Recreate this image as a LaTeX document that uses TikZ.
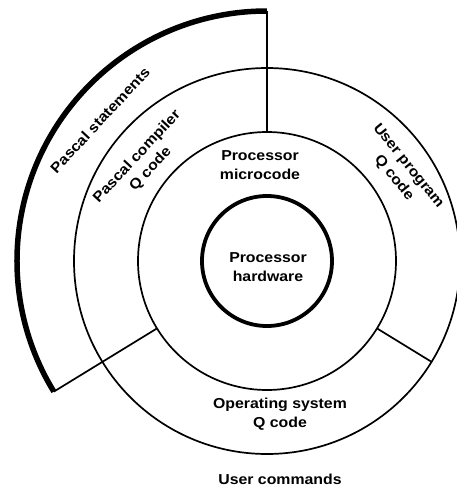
\documentclass[tikz,border=0pt]{standalone}
\usepackage{fontspec}
\newfontfamily\lab{Liberation Sans}[FakeStretch=1.1]
\begin{document}
\begin{tikzpicture}[x=1pt,y=1pt,
  ring/.style={line width=1.7pt},
  core/.style={line width=3.8pt},
  shell/.style={line width=5.5pt},
  divider/.style={line width=1.7pt},
  txt/.style={align=center,inner sep=0pt,font=\lab\bfseries\fontsize{14.4}{18.5}\selectfont}]
\useasboundingbox (-267,-230) rectangle (190,261);
% centre
\coordinate (c) at (0,0);
% rings
\draw[core] (c) circle[radius=65];
\draw[ring] (c) circle[radius=129];
\draw[ring] (c) circle[radius=193];
% thick outer shell (Pascal statements)
\coordinate (shellA) at (90:250);
\coordinate (shellB) at (211.5:250);
\draw[shell] (shellA) arc[start angle=90,end angle=211.5,radius=250];
% dividers
\coordinate (d1a) at (90:129);
\coordinate (d2a) at (211.5:129);
\coordinate (d3a) at (-31.5:129);
\coordinate (d3b) at (-31.5:193);
\draw[divider] (d1a) -- (shellA);
\draw[divider] (d2a) -- (shellB);
\draw[divider] (d3a) -- (d3b);
% labels
\node[txt] (hw) at (1,-6) {Processor\\hardware};
\node[txt] (mc) at (-7,96) {Processor\\microcode};
\node[txt] (os) at (13,-153) {Operating system\\Q code};
\node[txt] (uc) at (13,-218) {User commands};
\node[txt,rotate=-51] (up) at (134,89) {User program\\Q code};
\node[txt,rotate=47] (pc) at (-123,98) {Pascal compiler\\Q code};
\node[txt,rotate=47] (ps) at (-167,141) {Pascal statements};
\end{tikzpicture}
\end{document}
